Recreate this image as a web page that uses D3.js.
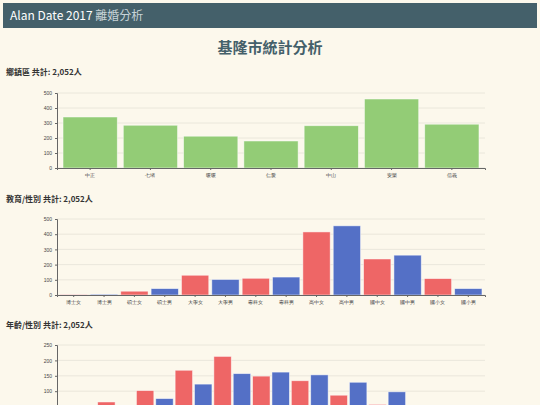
<!DOCTYPE html>
<html><head><meta charset="utf-8">
<script src="https://cdn.jsdelivr.net/npm/d3@7"></script>
<style>
body{margin:0;background:#fcf8ec;font-family:"Noto Sans CJK TC","DejaVu Sans",sans-serif;width:540px;height:405px;overflow:hidden}
</style></head><body>
<svg id="canvas" width="540" height="405"></svg>
<script>
const districts = ['中正','七堵','暖暖','仁愛','中山','安樂','信義'];
const districtValues = [340,285,212,180,282,460,292];
const eduLabels = ['博士女','博士男','碩士女','碩士男','大學女','大學男','專科女','專科男','高中女','高中男','國中女','國中男','國小女','國小男'];
const eduValues = [3,5,25,42,130,102,110,118,415,455,237,262,108,42];
const ageLabels = ['15-19女','15-19男','20-24女','20-24男','25-29女','25-29男','30-34女','30-34男','35-39女','35-39男','40-44女','40-44男','45-49女','45-49男','50-54女','50-54男','55-59女','55-59男','60-64女','60-64男','65+女','65+男'];
const ageValues = [3,1,65,30,102,76,168,123,213,157,149,162,134,153,87,129,57,98,28,40,8,18];

const svg = d3.select('#canvas');
svg.append('rect').attr('x',3).attr('y',3).attr('width',534).attr('height',25).attr('fill','#44606a');
const hdr = svg.append('text').attr('x',10).attr('y',20).attr('font-size',12).attr('fill','#fff');
hdr.append('tspan').text('Alan Date 2017 ');
hdr.append('tspan').attr('fill','#c8d4d8').text('離婚分析');
svg.append('text').attr('x',270).attr('y',53).attr('text-anchor','middle')
  .attr('font-size',15).attr('font-weight','bold').attr('fill','#44606a').text('基隆市統計分析');

function chart(title, titleY, labels, values, yTop, yBottom, maxV, colorFn) {
  svg.append('text').attr('x',6).attr('y',titleY).attr('font-size',8).attr('font-weight','bold')
    .attr('fill','#333').text(title);
  const x = d3.scaleBand().domain(labels).range([57,485]).padding(0.1);
  const y = d3.scaleLinear().domain([0,maxV]).range([yBottom,yTop]);
  const g = svg.append('g');
  g.selectAll('line.grid').data(y.ticks(5)).join('line')
    .attr('x1',57).attr('x2',485).attr('y1',d=>y(d)).attr('y2',d=>y(d))
    .attr('stroke','#e6e2d8').attr('stroke-width',0.8);
  g.selectAll('rect').data(values).join('rect')
    .attr('x',(d,i)=>x(labels[i])).attr('width',x.bandwidth())
    .attr('y',d=>y(d)).attr('height',d=>yBottom-y(d))
    .attr('fill',(d,i)=>colorFn(i)).attr('stroke','#fff').attr('stroke-opacity',0.6).attr('stroke-width',0.8);
  const ya = g.append('g').attr('transform','translate(57,0)').call(d3.axisLeft(y).ticks(5).tickSize(2));
  const xa = g.append('g').attr('transform',`translate(0,${yBottom})`).call(d3.axisBottom(x).tickSize(2));
  [ya,xa].forEach(a=>{a.selectAll('text').attr('font-size',5).attr('fill','#444');a.selectAll('path,line').attr('stroke','#666');});
}
chart('鄉鎮區 共計: 2,052人',75,districts,districtValues,93,168,500,()=>'#93cc76');
const sex = i => i%2===0 ? '#ee6666' : '#5470c6';
chart('教育/性別 共計: 2,052人',202,eduLabels,eduValues,219,295,500,sex);
chart('年齡/性別 共計: 2,052人',328,ageLabels,ageValues,345,422,250,sex);
</script></body></html>
